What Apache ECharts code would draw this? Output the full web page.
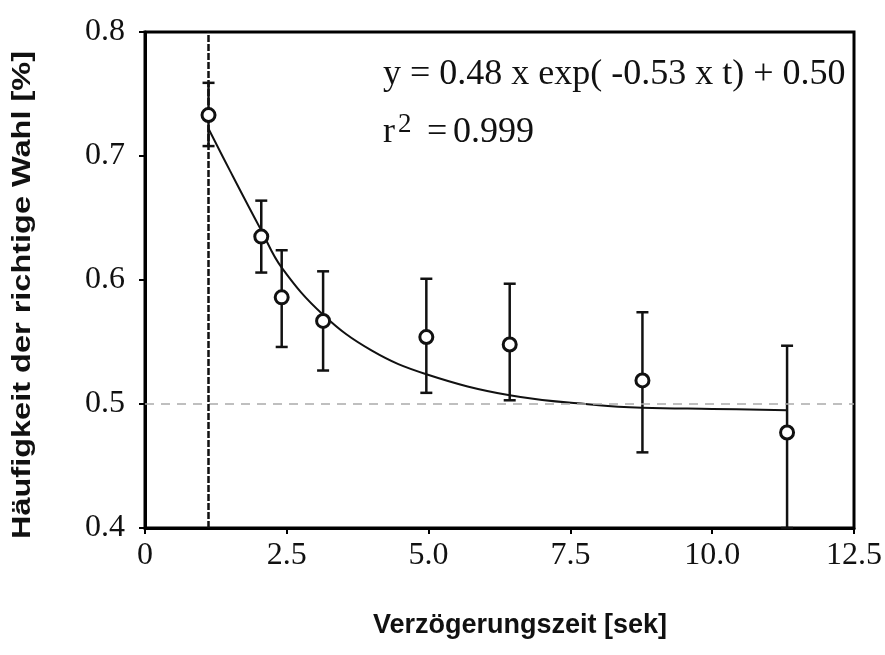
<!DOCTYPE html>
<html>
<head>
<meta charset="utf-8">
<script src="https://cdn.jsdelivr.net/npm/echarts@6/dist/echarts.min.js"></script>
<style>
  html, body { margin: 0; padding: 0; background: #fff; }
  #chart { width: 885px; height: 655px; }
</style>
</head>
<body>
<div id="chart"></div>
<script>
// Messpunkte
const ptT = [1.12, 2.05, 2.41, 3.14, 4.96, 6.43, 8.77, 11.32];
const ptY = [0.733, 0.635, 0.586, 0.567, 0.554, 0.548, 0.519, 0.477];
const errLo = [0.708, 0.606, 0.546, 0.527, 0.509, 0.503, 0.461, 0.400];
const errHi = [0.759, 0.664, 0.624, 0.607, 0.601, 0.597, 0.574, 0.547];
// Fitkurve
const fitT = [1.12, 1.5, 2.05, 2.41, 3.14, 4.0, 4.96, 6.43, 8.0, 8.77, 10.0, 11.32];
const fitY = [0.722, 0.688, 0.640, 0.610, 0.572, 0.543, 0.524, 0.507, 0.499, 0.497, 0.496, 0.495];
// Hilfslinien
const chanceLevel = 0.5;
const delayMark = 1.12;

const points = ptT.map((t, i) => [t, ptY[i]]);
const bars = ptT.map((t, i) => [t, errLo[i], errHi[i]]);
const fit = fitT.map((t, i) => [t, fitY[i]]);

const chart = echarts.init(document.getElementById("chart"));

const serif = "Liberation Serif";
// kleine Hilfsfunktion fuer Text-Elemente
function txt(text, x, y, font, align, vAlign, extra) {
  return Object.assign({
    type: "text",
    x: x,
    y: y,
    style: {
      text: text,
      font: font,
      fill: "#111",
      align: align,
      verticalAlign: vAlign,
      textAlign: align,
      textVerticalAlign: vAlign
    }
  }, extra || {});
}

const option = {
  backgroundColor: "#fff",
  animation: false,
  grid: {
    left: 145,
    right: 30,
    top: 32,
    bottom: 127,
    show: true,
    borderColor: "#000",
    borderWidth: 3
  },
  xAxis: {
    type: "value",
    min: 0,
    max: 12.5,
    interval: 2.5,
    splitLine: { show: false },
    axisLine: { lineStyle: { color: "#000", width: 3 } },
    axisTick: { length: 6, lineStyle: { color: "#000", width: 2 } },
    axisLabel: {
      color: "#111",
      fontFamily: serif,
      fontSize: 32,
      margin: 12,
      formatter: v => (v === 0 ? "0" : v.toFixed(1))
    }
  },
  yAxis: {
    type: "value",
    min: 0.4,
    max: 0.8,
    interval: 0.1,
    splitLine: { show: false },
    axisLine: { lineStyle: { color: "#000", width: 3 } },
    axisTick: { length: 6, lineStyle: { color: "#000", width: 2 } },
    axisLabel: {
      color: "#111",
      fontFamily: serif,
      fontSize: 32,
      margin: 20,
      formatter: v => v.toFixed(1)
    }
  },
  graphic: [
    txt("Häufigkeit der richtige Wahl [%]", 23, 295, "bold 25px 'Liberation Sans'", "center", "middle",
      { rotation: Math.PI / 2, scaleX: 1.3 }),
    txt("Verzögerungszeit [sek]", 520, 626, "bold 27px 'Liberation Sans'", "center", "middle"),
    txt("y = 0.48 x exp( -0.53 x t) + 0.50", 383, 93, "36px 'Liberation Serif'", "left", "bottom"),
    txt("r", 383, 151, "36px 'Liberation Serif'", "left", "bottom"),
    txt("2", 398, 138, "27px 'Liberation Serif'", "left", "bottom"),
    txt("=", 427, 151, "36px 'Liberation Serif'", "left", "bottom"),
    txt("0.999", 453, 151, "36px 'Liberation Serif'", "left", "bottom")
  ],
  series: [
    {
      name: "fit",
      type: "line",
      data: fit,
      smooth: 0.4,
      showSymbol: false,
      lineStyle: { color: "#111", width: 2 },
      z: 3,
      markLine: {
        silent: true,
        symbol: "none",
        label: { show: false },
        data: [
          { yAxis: chanceLevel, lineStyle: { color: "#aaa", type: [9, 7], width: 1.5 } },
          { xAxis: delayMark, lineStyle: { color: "#111", type: [7, 2], width: 2.5 } }
        ]
      }
    },
    {
      name: "err",
      type: "custom",
      data: bars,
      z: 4,
      renderItem(params, api) {
        const lo = api.coord([api.value(0), api.value(1)]);
        const hi = api.coord([api.value(0), api.value(2)]);
        const cap = 6;
        const style = { stroke: "#111", lineWidth: 2.5 };
        return {
          type: "group",
          children: [
            { type: "line", shape: { x1: lo[0], y1: lo[1], x2: hi[0], y2: hi[1] }, style },
            { type: "line", shape: { x1: hi[0] - cap, y1: hi[1], x2: hi[0] + cap, y2: hi[1] }, style },
            { type: "line", shape: { x1: lo[0] - cap, y1: lo[1], x2: lo[0] + cap, y2: lo[1] }, style }
          ]
        };
      }
    },
    {
      name: "mean",
      type: "scatter",
      data: points,
      symbol: "circle",
      symbolSize: 13,
      z: 5,
      itemStyle: { color: "#fff", borderColor: "#111", borderWidth: 3, opacity: 1 }
    }
  ]
};
chart.setOption(option);
</script>
</body>
</html>
